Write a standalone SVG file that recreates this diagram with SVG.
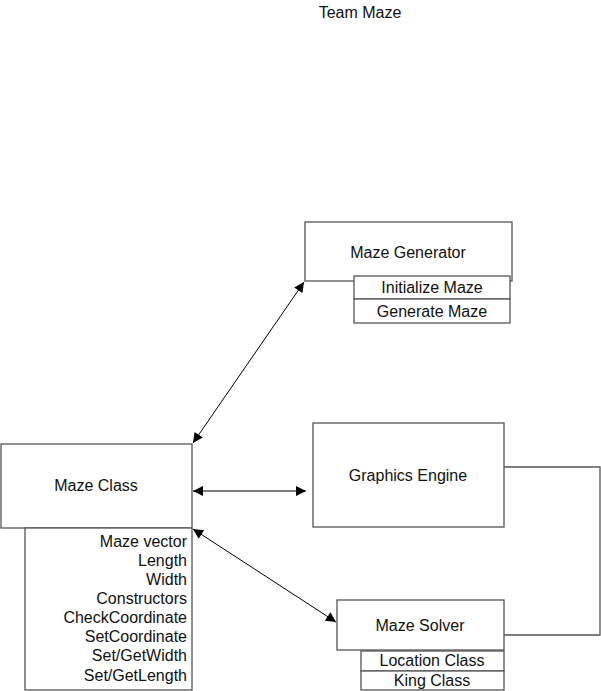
<svg xmlns="http://www.w3.org/2000/svg" width="601" height="691" viewBox="0 0 601 691">
<style>
.box{fill:#fff;stroke:#555;stroke-width:1.3}
.ln{fill:none;stroke:#000;stroke-width:1}
.ln2{fill:none;stroke:#555;stroke-width:1.3}
text{font-family:"Liberation Sans",Arial,sans-serif;font-size:16px;fill:#111}
.c{text-anchor:middle}
.r{text-anchor:end}
</style>
<defs>
<marker id="ah" viewBox="0 0 10 10" refX="10" refY="5" markerWidth="14" markerHeight="10" markerUnits="userSpaceOnUse" orient="auto-start-reverse">
<path d="M0,0 L10,5 L0,10 z" fill="#000"/>
</marker>
</defs>
<rect width="601" height="691" fill="#fff"/>
<text class="c" x="360" y="18">Team Maze</text>
<g id="connectors">
<line class="ln" x1="193" y1="443" x2="304" y2="282" marker-start="url(#ah)" marker-end="url(#ah)"/>
<line class="ln" x1="193" y1="491" x2="306" y2="491" marker-start="url(#ah)" marker-end="url(#ah)"/>
<line class="ln" x1="193" y1="529" x2="336" y2="622" marker-start="url(#ah)" marker-end="url(#ah)"/>
<polyline class="ln2" points="504,467 600,467 600,635 504,635"/>
</g>
<g id="maze-generator">
<rect class="box" x="305" y="222" width="207" height="59"/>
<text class="c" x="408" y="258">Maze Generator</text>
<rect class="box" x="354" y="276" width="156" height="23"/>
<text class="c" x="432" y="293">Initialize Maze</text>
<rect class="box" x="354" y="299" width="156" height="24"/>
<text class="c" x="432" y="317">Generate Maze</text>
</g>
<g id="maze-class">
<rect class="box" x="1" y="444" width="191" height="84"/>
<text class="c" x="96" y="491">Maze Class</text>
<rect class="box" x="25" y="528" width="167" height="162"/>
<text class="r" x="187" y="547">Maze vector</text>
<text class="r" x="187" y="566">Length</text>
<text class="r" x="187" y="585">Width</text>
<text class="r" x="187" y="604">Constructors</text>
<text class="r" x="187" y="623">CheckCoordinate</text>
<text class="r" x="187" y="642">SetCoordinate</text>
<text class="r" x="187" y="661">Set/GetWidth</text>
<text class="r" x="187" y="681">Set/GetLength</text>
</g>
<g id="graphics-engine">
<rect class="box" x="313" y="423" width="191" height="104"/>
<text class="c" x="408" y="481">Graphics Engine</text>
</g>
<g id="maze-solver">
<rect class="box" x="337" y="600" width="167" height="50"/>
<text class="c" x="420" y="631">Maze Solver</text>
<rect class="box" x="361" y="651" width="143" height="20"/>
<text class="c" x="432" y="666">Location Class</text>
<rect class="box" x="361" y="671" width="143" height="19"/>
<text class="c" x="432" y="686">King Class</text>
</g>
</svg>
